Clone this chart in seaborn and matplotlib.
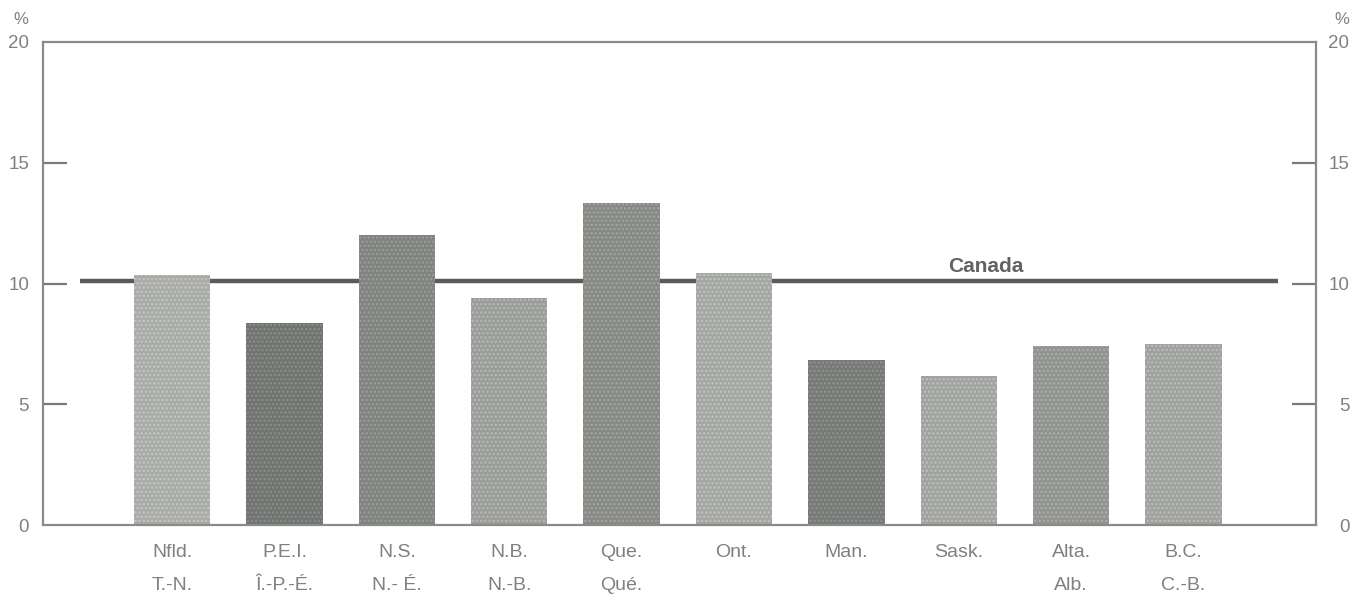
import matplotlib
matplotlib.use("Agg")
import pandas as pd
import matplotlib.pyplot as plt
import matplotlib.transforms as mtrans
import seaborn as sns

# Provincial values (%)
provinces = ["Nfld.\nT.-N.", "P.E.I.\nÎ.-P.-É.", "N.S.\nN.- É.", "N.B.\nN.-B.", "Que.\nQué.",
             "Ont.", "Man.", "Sask.", "Alta.\nAlb.", "B.C.\nC.-B."]
values = [10.35, 8.35, 12.0, 9.4, 13.35, 10.45, 6.85, 6.15, 7.4, 7.5]
canada = 10.1
yticks = [0, 5, 10, 15, 20]

bar_colors = ["#a8aba6", "#70746f", "#7f837d", "#9a9d98", "#868983",
              "#a3a6a1", "#767a75", "#a0a39e", "#8f938d", "#9ea29c"]
dot_colors = ["#c4c6c2", "#8b8f8a", "#9a9e98", "#b7b9b4", "#a2a5a0",
              "#c0c2be", "#90948f", "#bcbfba", "#abaea9", "#babdb8"]

df = pd.DataFrame({"province": provinces, "value": values})

sns.set_theme(style="white")
plt.rcParams["font.family"] = ["Liberation Sans", "DejaVu Sans"]
plt.rcParams["hatch.linewidth"] = 1.2

fig = plt.figure(figsize=(13.69, 5.96), dpi=100)
ax = fig.add_axes([43 / 1369, 71 / 596, (1316 - 43) / 1369, (525 - 42) / 596])

# Canada average line, drawn under the bars
ax.plot([-0.82, 9.84], [canada, canada], color="#5a5c5a", lw=3.2, zorder=1,
        solid_capstyle="butt")
ax.text(7.24, canada + 0.37, "Canada", ha="center", va="baseline",
        fontsize=15, fontweight="bold", color="#5f645f")

sns.barplot(data=df, x="province", y="value", hue="province", palette=bar_colors,
            legend=False, width=0.68, ax=ax, zorder=2)
for patch, dc in zip(ax.patches, dot_colors):
    patch.set_hatch("....")
    patch.set_edgecolor(dc)
    patch.set_linewidth(0)

ax.set_xlim(-1.15, 10.18)
ax.set_ylim(0, 20)
ax.set_yticks(yticks)
ax.set_xlabel("")
ax.set_ylabel("")

grey = "#8a8a8a"
text_grey = "#808080"
for s in ax.spines.values():
    s.set_visible(True)
    s.set_color(grey)
    s.set_linewidth(1.6)

ax.tick_params(axis="y", direction="in", length=17, width=1.6,
               color="#7a7a7a", labelsize=13.5, labelcolor=text_grey,
               left=True, right=True, labelleft=True, labelright=True, pad=10)
ax.tick_params(axis="x", length=0, labelsize=14, labelcolor=text_grey, pad=14)
for lbl in ax.get_xticklabels():
    lbl.set_linespacing(2.2)
    lbl.set_va("top")

# right-hand labels are right-aligned in the original
for t in ax.yaxis.get_major_ticks():
    t.label2.set_horizontalalignment("right")
    t.label2.set_transform(t.label2.get_transform() +
                           mtrans.ScaledTranslation(14 / 72, 0, fig.dpi_scale_trans))

# hide the inward ticks at 0 and 20 (they sit on the frame)
for t, v in zip(ax.yaxis.get_major_ticks(), yticks):
    if v in (0, 20):
        t.tick1line.set_visible(False)
        t.tick2line.set_visible(False)

fig.text(21 / 1369, 1 - 19 / 596, "%", ha="center", va="center", fontsize=12, color=text_grey)
fig.text(1342 / 1369, 1 - 20 / 596, "%", ha="center", va="center", fontsize=12, color=text_grey)

fig.savefig("out.png", dpi=100, facecolor="white")
